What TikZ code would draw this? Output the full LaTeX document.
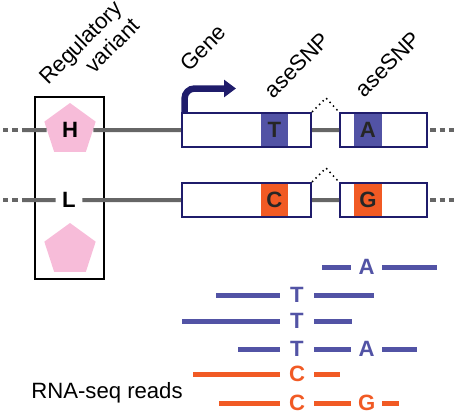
\documentclass[tikz,border=0pt]{standalone}
\usepackage{fontspec}
\setmainfont{Liberation Sans}
\usetikzlibrary{arrows.meta,shapes.geometric,positioning}
\definecolor{genenavy}{HTML}{1F1C6B}
\definecolor{snpblue}{HTML}{5253A5}
\definecolor{snporange}{HTML}{F15A24}
\definecolor{varpink}{HTML}{F7BCD9}
\definecolor{dnagray}{HTML}{666666}
\tikzset{
    %Define standard arrow tip
    >={Triangle[width=.34cm,length=.24cm]},
    %Define style for boxes
    exon/.style={
           rectangle,
           draw=genenavy, line width=.04cm,
           fill=white,
           minimum height=.68cm,
           inner sep=0pt},
    snp/.style={
           rectangle,
           inner sep=0pt,
           minimum width=.55cm,
           minimum height=.645cm,
           text=black!85,
           font=\bfseries},
    variant/.style={
           regular polygon,
           regular polygon sides=5,
           fill=varpink,
           minimum size=1.08cm,
           inner sep=0pt,
           font=\bfseries},
    regbox/.style={
           rectangle,
           draw=black, line width=.025cm,
           minimum width=1.38cm,
           minimum height=3.64cm},
    % Define line styles
    dna/.style={draw=dnagray, line width=.08cm},
    dnaend/.style={dna, dash pattern=on .11cm off .08cm},
    intron/.style={draw=black, dotted, line width=.03cm},
    genearrow/.style={->, draw=genenavy, line width=.13cm, rounded corners=.2cm},
    base/.style={font=\bfseries, inner sep=0pt, minimum width=.68cm},
    readline/.style={line width=.1cm},
    tilted/.style={rotate=45, inner sep=0pt}
}
\begin{document}
\fontsize{12.6}{14}\selectfont
\begin{tikzpicture}[x=.02cm,y=-.02cm]
\useasboundingbox (0,0) rectangle (457,413);
 %regulatory variant
\node[regbox](reg) at (69.5,188){};
\node[variant](hvar) at (70,130){H};
\node[variant](lvar) at (70,250){};
\node[base, minimum width=.52cm](low) at (69,200){L};
 %exons
\node[exon, minimum width=2.586cm](ex1) at (246.4,130){};
\node[exon, minimum width=1.74cm](ex2) at (383.5,130){};
\node[exon, minimum width=2.586cm](ex1b) at (246.4,200){};
\node[exon, minimum width=1.74cm](ex2b) at (383.5,200){};
\node[snp, fill=snpblue](snpt) at (274.4,130){T};
\node[snp, fill=snpblue](snpa) at (367.9,130){A};
\node[snp, fill=snporange](snpc) at (274.4,200){C};
\node[snp, fill=snporange](snpg) at (367.9,200){G};
 %line ends and peaks
\coordinate (lt0) at (3,130);
\coordinate (lt1) at (22,130);
\coordinate (rt0) at (430,130);
\coordinate (rt1) at (456,130);
\coordinate (lb0) at (3,200);
\coordinate (lb1) at (22,200);
\coordinate (rb0) at (430,200);
\coordinate (rb1) at (456,200);
\coordinate (peak1) at (326,98);
\coordinate (peak2) at (326,168);
\coordinate (tss) at (236,88.5);
 %dna
\draw[dnaend] (lt0) -- (lt1) (rt0) -- (rt1) (lb0) -- (lb1) (rb0) -- (rb1);
\draw[dna] (lt1) -- (hvar) (hvar) -- (ex1) (ex1) -- (ex2)
    (lb1) -- (low) (low) -- (ex1b) (ex1b) -- (ex2b);
\draw[intron] (ex1.north east) -- (peak1) -- (ex2.north west);
\draw[intron] (ex1b.north east) -- (peak2) -- (ex2b.north west);
\draw[genearrow] ([xshift=.076cm]ex1.north west) |- (tss);
 %labels
\node[tilted, align=right](regvar) at (89,51){Regulatory\\variant};
\node[tilted](gene) at (203,48){Gene};
\node[tilted](ase1) at (297,65){aseSNP};
\node[tilted](ase2) at (388,64){aseSNP};
 %reads
\coordinate (r1s) at (322,267); \coordinate (r1e) at (437,267);
\coordinate (r2s) at (216,295); \coordinate (r2e) at (374,295);
\coordinate (r3s) at (182,321); \coordinate (r3e) at (352,321);
\coordinate (r4s) at (238,349); \coordinate (r4e) at (417,349);
\coordinate (r5s) at (193,374); \coordinate (r5e) at (340,374);
\coordinate (r6s) at (219,403); \coordinate (r6e) at (399,403);
\begin{scope}[every node/.style={base}]
\node[text=snpblue, minimum width=.6cm](r1a) at (366.7,267){A};
\node[text=snpblue](r2t) at (297,295){T};
\node[text=snpblue](r3t) at (297,321){T};
\node[text=snpblue](r4t) at (297,349){T};
\node[text=snpblue, minimum width=.6cm](r4a) at (366.7,349){A};
\node[text=snporange](r5c) at (297,374){C};
\node[text=snporange](r6c) at (297,403){C};
\node[text=snporange, minimum width=.6cm](r6g) at (366.7,403){G};
\end{scope}
\draw[readline, snpblue] (r1s) -- (r1a) (r1a) -- (r1e)
    (r2s) -- (r2t) (r2t) -- (r2e)
    (r3s) -- (r3t) (r3t) -- (r3e)
    (r4s) -- (r4t) (r4t) -- (r4a) (r4a) -- (r4e);
\draw[readline, snporange] (r5s) -- (r5c) (r5c) -- (r5e)
    (r6s) -- (r6c) (r6c) -- (r6g) (r6g) -- (r6e);
\node(rnalabel) at (107,393){RNA-seq reads};
\end{tikzpicture}
\end{document}
